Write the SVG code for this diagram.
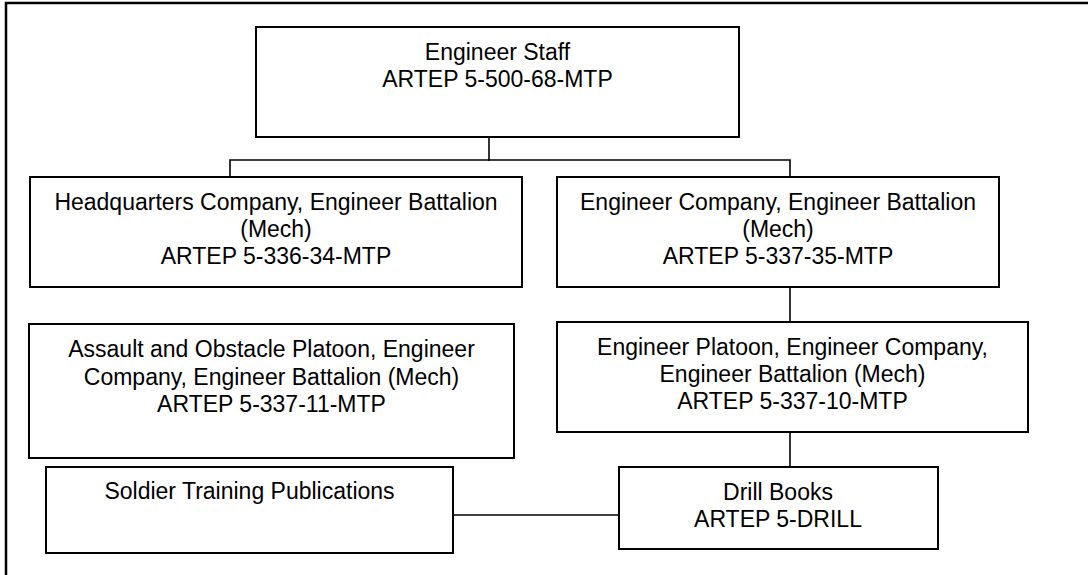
<svg xmlns="http://www.w3.org/2000/svg" width="1088" height="575" viewBox="0 0 1088 575">
<style>
.box{fill:#fff;stroke:#000;stroke-width:2}
.frame{fill:none;stroke:#000;stroke-width:2.5}
.conn{fill:none;stroke:#000;stroke-width:1.6}
text{font-family:"Liberation Sans",Arial,sans-serif;font-size:23px;fill:#000;text-anchor:middle}
</style>
<rect width="1088" height="575" fill="#fff"/>
<path class="frame" d="M6,575 V3 H1088"/>
<g id="connectors">
<path class="conn" d="M489,137 V161"/>
<path class="conn" d="M230,177 V160 H790 V177"/>
<path class="conn" d="M790,287 V322"/>
<path class="conn" d="M790,432 V467"/>
<path class="conn" d="M453,515 H619"/>
</g>
<g id="engineer-staff">
<rect class="box" x="256" y="27" width="483" height="110"/>
<text x="497.5" y="60">Engineer Staff</text>
<text x="497.5" y="87">ARTEP 5-500-68-MTP</text>
</g>
<g id="hq-company">
<rect class="box" x="30" y="177" width="492" height="110"/>
<text x="276" y="209.5">Headquarters Company, Engineer Battalion</text>
<text x="276" y="236.5">(Mech)</text>
<text x="276" y="263.5">ARTEP 5-336-34-MTP</text>
</g>
<g id="engineer-company">
<rect class="box" x="557" y="177" width="442" height="110"/>
<text x="778" y="209.5">Engineer Company, Engineer Battalion</text>
<text x="778" y="236.5">(Mech)</text>
<text x="778" y="263.5">ARTEP 5-337-35-MTP</text>
</g>
<g id="assault-obstacle-platoon">
<rect class="box" x="29" y="324" width="485" height="134"/>
<text x="271.5" y="357">Assault and Obstacle Platoon, Engineer</text>
<text x="271.5" y="384.5">Company, Engineer Battalion (Mech)</text>
<text x="271.5" y="411.5">ARTEP 5-337-11-MTP</text>
</g>
<g id="engineer-platoon">
<rect class="box" x="557" y="322" width="471" height="110"/>
<text x="792.5" y="354.5">Engineer Platoon, Engineer Company,</text>
<text x="792.5" y="382">Engineer Battalion (Mech)</text>
<text x="792.5" y="409">ARTEP 5-337-10-MTP</text>
</g>
<g id="soldier-training-publications">
<rect class="box" x="46" y="467" width="407" height="86"/>
<text x="249.5" y="498.5">Soldier Training Publications</text>
</g>
<g id="drill-books">
<rect class="box" x="619" y="467" width="319" height="82"/>
<text x="778" y="500">Drill Books</text>
<text x="778" y="527">ARTEP 5-DRILL</text>
</g>
</svg>
